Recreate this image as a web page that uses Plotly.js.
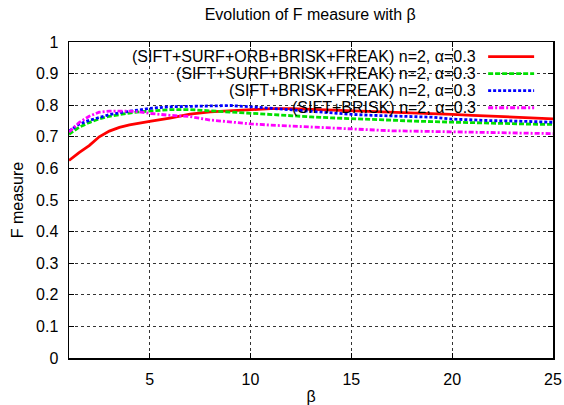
<!DOCTYPE html>
<html>
<head>
<meta charset="utf-8">
<script src="https://cdn.plot.ly/plotly-3.0.1.min.js"></script>
<style>html,body{margin:0;padding:0;background:#fff;}#chart{width:564px;height:405px;}</style>
</head>
<body>
<div id="chart"></div>
<script>
// beta values (x axis)
var beta = [1,1.5,2,2.5,3,3.5,4,4.5,5,6,7,8,9,10,11,12,13,14,15,16,17,18,19,20,21,22,23,24,25];

// F measure series
var fAll5 = [0.625,0.650,0.672,0.700,0.718,0.730,0.738,0.744,0.749,0.759,0.772,0.779,0.783,0.786,0.789,0.789,0.787,0.784,0.782,0.779,0.777,0.776,0.774,0.771,0.768,0.765,0.762,0.760,0.757];
var fSurfBriskFreak = [0.708,0.730,0.745,0.757,0.765,0.771,0.775,0.779,0.782,0.786,0.786,0.782,0.778,0.773,0.770,0.767,0.763,0.760,0.757,0.754,0.752,0.750,0.748,0.746,0.744,0.743,0.742,0.740,0.739];
var fBriskFreak = [0.718,0.740,0.752,0.762,0.770,0.776,0.781,0.786,0.790,0.795,0.797,0.799,0.799,0.795,0.790,0.786,0.782,0.776,0.771,0.768,0.766,0.764,0.762,0.756,0.753,0.751,0.750,0.748,0.746];
var fBrisk = [0.715,0.745,0.765,0.778,0.781,0.782,0.781,0.779,0.774,0.768,0.764,0.753,0.746,0.741,0.737,0.734,0.731,0.727,0.723,0.720,0.719,0.718,0.717,0.715,0.714,0.713,0.712,0.711,0.710];

var seriesNames = [
  "(SIFT+SURF+ORB+BRISK+FREAK) n=2, \u03b1=0.3",
  "(SIFT+SURF+BRISK+FREAK) n=2, \u03b1=0.3",
  "(SIFT+BRISK+FREAK) n=2, \u03b1=0.3",
  "(SIFT+BRISK) n=2, \u03b1=0.3"
];
var xTicks = [5,10,15,20,25];
var yTicks = [0,0.1,0.2,0.3,0.4,0.5,0.6,0.7,0.8,0.9,1];
var yTickText = ["0","0.1","0.2","0.3","0.4","0.5","0.6","0.7","0.8","0.9","1"];

var seriesData = [fAll5, fSurfBriskFreak, fBriskFreak, fBrisk];
var colors = ["#ff0000", "#00e000", "#0000ff", "#ff00ff"];
var dashes = ["solid", "5px,2px", "3px,2px", "5px,2px,2px,2px"];

var FONT = "Liberation Sans, Arial, Helvetica, sans-serif";

var traces = seriesData.map(function(d, i) {
  return {
    x: beta, y: d, type: "scatter", mode: "lines", name: seriesNames[i],
    line: {color: colors[i], width: 2.8, dash: dashes[i]},
    showlegend: false, hoverinfo: "skip"
  };
});

// custom legend (text right-aligned, sample on the right, like gnuplot)
var legTextX = 0.845, legS0 = 0.866, legS1 = 0.961;
var legY = [0.954, 0.900, 0.846, 0.792];
var annotations = seriesNames.map(function(n, i) {
  return {xref: "paper", yref: "paper", x: legTextX, y: legY[i], text: n,
    showarrow: false, xanchor: "right", yanchor: "middle",
    font: {family: FONT, size: 16, color: "#000"}};
});
var shapes = [{type: "rect", xref: "paper", yref: "paper", x0: 0.069, x1: 0.983, y0: 0.772, y1: 1,
  fillcolor: "#fff", line: {width: 0}, layer: "between"}];
seriesNames.forEach(function(n, i) {
  shapes.push({type: "line", xref: "paper", yref: "paper", x0: legS0, x1: legS1, y0: legY[i], y1: legY[i],
    line: {color: colors[i], width: 2.8, dash: dashes[i]}, layer: "above"});
});

var layout = {
  width: 564, height: 405,
  margin: {l: 68.5, r: 11, t: 42, b: 47, pad: 0},
  paper_bgcolor: "#fff", plot_bgcolor: "#fff",
  font: {family: FONT, size: 16, color: "#000"},
  title: {text: "Evolution of F measure with \u03b2", x: 0.55, xanchor: "center", y: 0.965, yanchor: "middle",
    font: {family: FONT, size: 16, color: "#000"}},
  xaxis: {
    range: [1, 25], tickvals: xTicks, ticktext: xTicks.map(String),
    ticks: "inside", ticklen: 5, tickwidth: 1, tickcolor: "#000",
    showline: true, linecolor: "#000", linewidth: 1.5, mirror: "ticks",
    showgrid: true, gridcolor: "#333", gridwidth: 1, griddash: "dot",
    zeroline: false, ticklabelstandoff: 6,
    title: {text: "\u03b2", font: {family: FONT, size: 16}, standoff: 6},
    tickfont: {family: FONT, size: 16}
  },
  yaxis: {
    range: [0, 1], tickvals: yTicks, ticktext: yTickText,
    ticks: "inside", ticklen: 5, tickwidth: 1, tickcolor: "#000",
    showline: true, linecolor: "#000", linewidth: 1.5, mirror: "ticks",
    showgrid: true, gridcolor: "#333", gridwidth: 1, griddash: "dot",
    zeroline: false, ticklabelstandoff: 6,
    title: {text: "F measure", font: {family: FONT, size: 16}, standoff: 8},
    tickfont: {family: FONT, size: 16}
  },
  annotations: annotations,
  shapes: shapes
};

Plotly.newPlot("chart", traces, layout, {staticPlot: true, displayModeBar: false});
</script>
</body>
</html>
